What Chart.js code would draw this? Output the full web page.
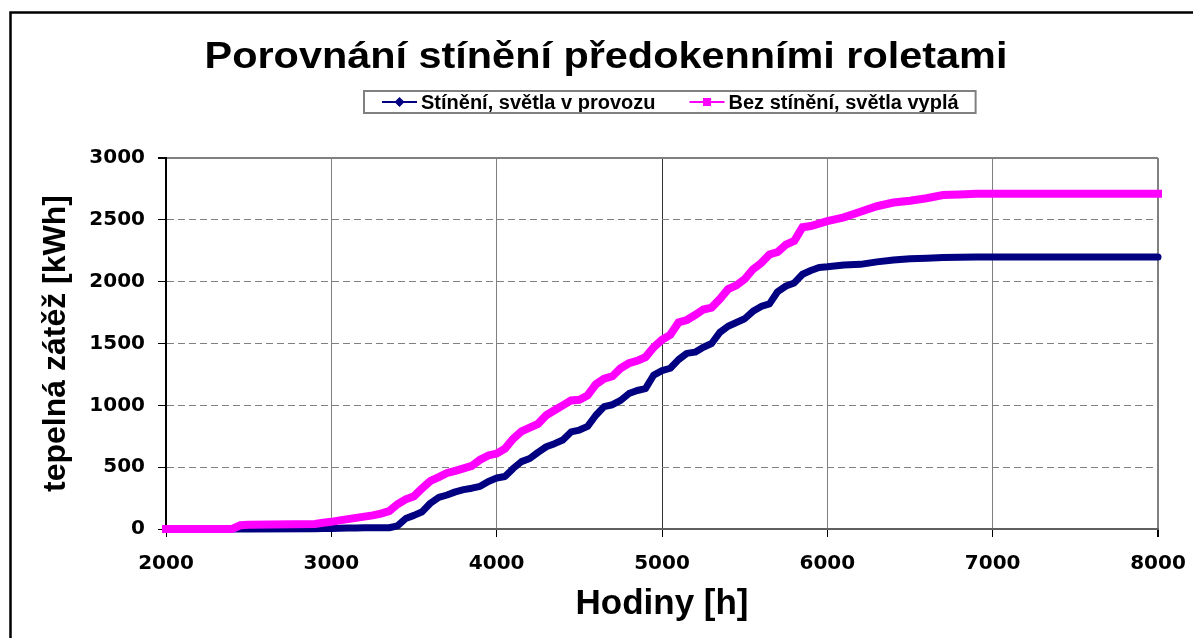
<!DOCTYPE html>
<html>
<head>
<meta charset="utf-8">
<script src="https://cdn.jsdelivr.net/npm/chart.js@4.4.1/dist/chart.umd.min.js"></script>
<style>
  html, body { margin: 0; padding: 0; background: #fff; overflow: hidden; }
  #wrap { position: relative; width: 1193px; height: 638px; }
</style>
</head>
<body>
<div id="wrap"><canvas id="chart" width="1193" height="638"></canvas></div>
<script>
const chartTitle = 'Porovnání stínění předokenními roletami';
const seriesNames = ['Stínění, světla v provozu', 'Bez stínění, světla vyplá'];
const xTitle = 'Hodiny [h]';
const yTitle = 'tepelná zátěž [kWh]';

const xTicks = [2000, 3000, 4000, 5000, 6000, 7000, 8000];
const yTicks = [0, 500, 1000, 1500, 2000, 2500, 3000];

const hours = [
  2000, 2400, 2450, 2500, 2900, 2950,
  3000, 3050, 3100, 3150, 3200, 3250, 3300, 3350, 3400, 3450,
  3500, 3550, 3600, 3650, 3700, 3750, 3800, 3850, 3900, 3950,
  4000, 4050, 4100, 4150, 4200, 4250, 4300, 4350, 4400, 4450,
  4500, 4550, 4600, 4650, 4700, 4750, 4800, 4850, 4900, 4950,
  5000, 5050, 5100, 5150, 5200, 5250, 5300, 5350, 5400, 5450,
  5500, 5550, 5600, 5650, 5700, 5750, 5800, 5850, 5900, 5950,
  6000, 6100, 6200, 6300, 6400, 6500, 6600, 6700, 6800, 6900, 7000, 8000
];

// Stínění, světla v provozu
const shaded = [
  0, 0, 0, 0, 3, 4,
  5, 6, 8, 9, 10, 10, 10, 10, 25, 85,
  110, 140, 210, 255, 275, 300, 318, 330, 345, 385,
  412, 425, 490, 545, 570, 620, 665, 690, 720, 785,
  800, 830, 920, 990, 1005, 1040, 1095, 1120, 1135, 1245,
  1280, 1300, 1370, 1420, 1430, 1470, 1500, 1590, 1640, 1670,
  1700, 1760, 1800, 1820, 1920, 1965, 1990, 2060, 2090, 2115,
  2120, 2135, 2140, 2160, 2175, 2185, 2190, 2195, 2198, 2200, 2200, 2200
];

// Bez stínění, světla vyplá
const unshaded = [
  0, 0, 30, 35, 40, 50,
  58, 70, 80, 90, 100, 110, 125, 145, 200, 240,
  265, 330, 390, 420, 453, 470, 490, 510, 560, 595,
  610, 650, 730, 790, 820, 850, 920, 960, 1000, 1040,
  1045, 1080, 1170, 1215, 1235, 1300, 1340, 1360, 1390, 1470,
  1530, 1570, 1670, 1690, 1730, 1775, 1790, 1860, 1940, 1970,
  2020, 2100, 2150, 2220, 2240, 2300, 2330, 2440, 2450, 2470,
  2490, 2520, 2565, 2610, 2640, 2655, 2675, 2700, 2705, 2710, 2710, 2710
];

const seriesColors = ['#000080', '#ff00ff'];
const ARIAL = '"Liberation Sans", Arial, sans-serif';

const toPoints = (vals) => hours.map((h, i) => ({ x: h, y: vals[i] }));

// frame, title and the boxed legend, drawn like the Excel original
const excelDecor = {
  id: 'excelDecor',
  beforeDraw(chart) {
    const ctx = chart.ctx;
    ctx.save();
    ctx.fillStyle = '#fff';
    ctx.fillRect(0, 0, chart.width, chart.height);
    ctx.strokeStyle = '#000';
    ctx.lineWidth = 2.5;
    ctx.strokeRect(10.5, 12.5, chart.width + 40, chart.height + 40);
    ctx.restore();
  },
  afterDraw(chart) {
    const ctx = chart.ctx;
    ctx.save();

    // title (Excel draws it a bit wider than Arial)
    ctx.font = 'bold 36px ' + ARIAL;
    ctx.fillStyle = '#000';
    ctx.textAlign = 'center';
    ctx.textBaseline = 'alphabetic';
    ctx.translate(606, 68);
    ctx.scale(1.15, 1);
    ctx.fillText(chartTitle, 0, 0);
    ctx.setTransform(1, 0, 0, 1, 0, 0);

    // legend
    const boxLeft = 364, boxTop = 91, boxH = 22;
    const cy = boxTop + boxH / 2;
    ctx.font = 'bold 20px ' + ARIAL;
    ctx.textAlign = 'left';
    ctx.textBaseline = 'middle';
    let x = boxLeft + 18;
    seriesNames.forEach((name, i) => {
      const col = seriesColors[i];
      ctx.strokeStyle = col;
      ctx.lineWidth = 2;
      ctx.beginPath();
      ctx.moveTo(x, cy);
      ctx.lineTo(x + 35, cy);
      ctx.stroke();
      ctx.fillStyle = col;
      const mx = x + 17.5;
      if (i === 0) {
        ctx.beginPath();
        ctx.moveTo(mx, cy - 5);
        ctx.lineTo(mx + 5, cy);
        ctx.lineTo(mx, cy + 5);
        ctx.lineTo(mx - 5, cy);
        ctx.closePath();
        ctx.fill();
      } else {
        ctx.fillRect(mx - 4, cy - 4, 8, 8);
      }
      ctx.fillStyle = '#000';
      ctx.fillText(name, x + 39, cy + 1);
      x += 39 + ctx.measureText(name).width + 34;
    });
    const boxW = x - 34 + 17 - boxLeft;
    ctx.strokeStyle = '#808080';
    ctx.lineWidth = 2;
    ctx.strokeRect(boxLeft, boxTop, boxW, boxH);

    ctx.restore();
  }
};

new Chart(document.getElementById('chart'), {
  type: 'line',
  data: {
    datasets: [
      {
        label: seriesNames[0],
        data: toPoints(shaded),
        borderColor: seriesColors[0],
        backgroundColor: seriesColors[0],
        borderWidth: 7,
        borderJoinStyle: 'round',
        borderCapStyle: 'round',
        pointRadius: 0,
        tension: 0,
        clip: false,
        order: 1
      },
      {
        label: seriesNames[1],
        data: toPoints(unshaded),
        borderColor: seriesColors[1],
        backgroundColor: seriesColors[1],
        borderWidth: 8,
        borderJoinStyle: 'miter',
        borderCapStyle: 'square',
        pointRadius: 0,
        tension: 0,
        clip: false,
        order: 0
      }
    ]
  },
  options: {
    responsive: false,
    animation: false,
    devicePixelRatio: 1,
    layout: { padding: { top: 158, right: 35, bottom: 0, left: 0 } },
    plugins: {
      legend: { display: false },
      title: { display: false },
      tooltip: { enabled: false }
    },
    scales: {
      x: {
        type: 'linear',
        min: xTicks[0],
        max: xTicks[xTicks.length - 1],
        afterFit(scale) {
          scale.height = 109;
          scale.paddingLeft = 0;
          scale.paddingRight = 0;
        },
        ticks: {
          stepSize: xTicks[1] - xTicks[0],
          padding: 15,
          color: '#000',
          maxRotation: 0,
          callback: (v) => String(v),
          font: { family: '"DejaVu Sans"', size: 20, weight: 'bold' }
        },
        grid: {
          color: (c) => c.tick && c.tick.value === 5000 ? '#333' : '#808080',
          lineWidth: (c) => c.tick && c.tick.value === xTicks[xTicks.length - 1] ? 2 : 1,
          tickLength: 8,
          tickColor: '#000'
        },
        border: { display: true, color: '#606060', width: 2 },
        title: {
          display: true,
          text: xTitle,
          color: '#000',
          font: { family: ARIAL, size: 35, weight: 'bold' },
          padding: { top: 0, bottom: 13 }
        }
      },
      y: {
        min: yTicks[0],
        max: yTicks[yTicks.length - 1],
        afterFit(scale) { scale.width = 166; },
        ticks: {
          stepSize: yTicks[1] - yTicks[0],
          padding: 13,
          color: '#000',
          callback: (v) => String(v),
          font: { family: '"DejaVu Sans"', size: 20, weight: 'bold' }
        },
        grid: {
          color: '#808080',
          lineWidth: (c) => c.tick && c.tick.value === yTicks[yTicks.length - 1] ? 2 : 1,
          tickLength: 8,
          tickColor: '#000'
        },
        border: {
          display: true,
          color: '#000',
          width: 2,
          dash: (c) => c.tick && c.tick.value === yTicks[yTicks.length - 1] ? [] : [7, 4]
        },
        title: {
          display: true,
          text: yTitle,
          color: '#000',
          font: { family: ARIAL, size: 32, weight: 'bold' },
          padding: { top: 37, bottom: 0 }
        }
      }
    }
  },
  plugins: [excelDecor]
});
</script>
</body>
</html>
